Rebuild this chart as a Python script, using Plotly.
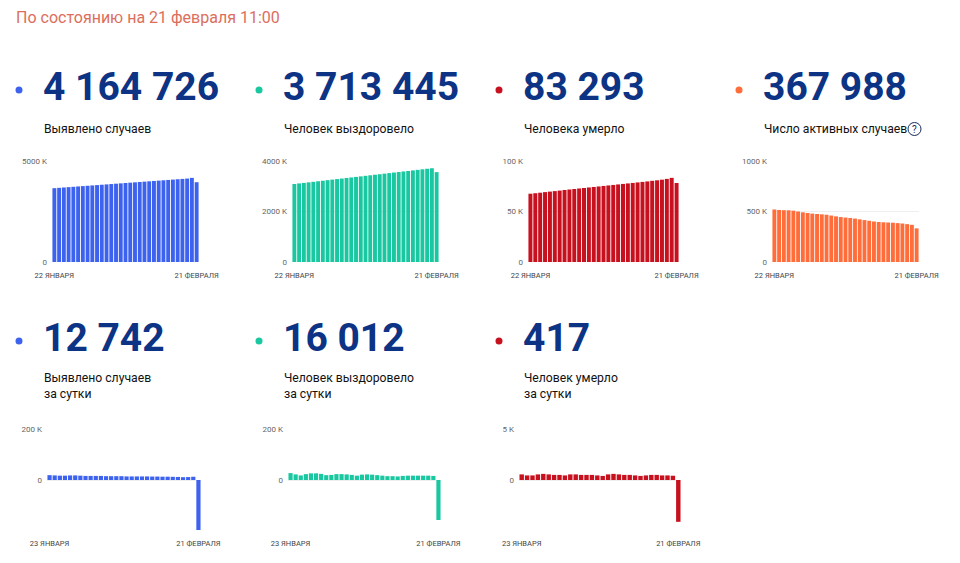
import plotly.graph_objects as go

# Colours
blue = '#3d63ee'    # confirmed
teal = '#19c7a0'    # recovered
red = '#c8111f'     # deaths
orange = '#ff6d3b'  # active
navy = '#0d3385'
salmon = '#dc6e5c'

W, H = 960, 563
PAGE_MARGIN = 8  # the html body margin shifts the figure

# Cumulative series, thousands, 22 Jan .. 21 Feb (31 days)
confirmed = [3655, 3672, 3689, 3706, 3723, 3740, 3757, 3774, 3791, 3808,
             3825, 3842, 3859, 3876, 3893, 3910, 3927, 3944, 3961, 3978,
             3995, 4012, 4029, 4046, 4063, 4080, 4097, 4114, 4131, 4165, 3950]
recovered = [3090, 3112, 3133, 3155, 3176, 3198, 3219, 3241, 3262, 3284,
             3305, 3327, 3348, 3370, 3391, 3413, 3434, 3456, 3477, 3499,
             3520, 3542, 3563, 3585, 3606, 3628, 3649, 3671, 3692, 3713, 3560]
deaths = [67.6, 68.1, 68.6, 69.2, 69.7, 70.2, 70.7, 71.3, 71.8, 72.3,
          72.8, 73.3, 73.8, 74.3, 74.8, 75.3, 75.8, 76.3, 76.8, 77.3,
          77.8, 78.3, 78.8, 79.3, 79.8, 80.4, 80.9, 81.5, 82.3, 83.3, 78.2]
active = [520, 515, 513, 512, 508, 500, 492, 485, 479, 475,
          472, 468, 460, 452, 445, 440, 436, 430, 422, 415,
          408, 401, 396, 393, 391, 389, 385, 381, 375, 368, 333]

# Daily series, 23 Jan .. 21 Feb (30 days)
daily_confirmed = [19, 18, 17, 17, 18, 18, 17, 16, 16, 16,
                   16, 15, 15, 15, 15, 14, 14, 14, 14, 14,
                   13.5, 13.5, 13, 13, 12.5, 12, 11, 11.5, 12.7, -196]
daily_recovered = [27, 22, 18, 23, 26, 26, 24, 19, 20, 23,
                   23, 22, 20, 17, 21, 22, 21, 19, 17, 15,
                   15, 14, 16, 17, 17, 17, 17, 17, 16, -157]
daily_deaths = [0.55, 0.45, 0.45, 0.55, 0.6, 0.55, 0.5, 0.5, 0.45, 0.55,
                0.55, 0.5, 0.5, 0.5, 0.45, 0.4, 0.55, 0.6, 0.55, 0.5,
                0.5, 0.45, 0.4, 0.45, 0.5, 0.5, 0.45, 0.45, 0.42, -4.1]

totals = ['4 164 726', '3 713 445', '83 293', '367 988']
totals_daily = ['12 742', '16 012', '417']
labels = ['Выявлено случаев', 'Человек выздоровело', 'Человека умерло',
          'Число активных случаев']
labels_daily = ['Выявлено случаев<br>за сутки', 'Человек выздоровело<br>за сутки',
                'Человек умерло<br>за сутки']

cum_ticks = [[0, 5000], [0, 2000, 4000], [0, 50, 100], [0, 500, 1000]]
cum_ticktext = [['0', '5000 K'], ['0', '2000 K', '4000 K'],
                ['0', '50 K', '100 K'], ['0', '500 K', '1000 K']]
daily_ticks = [[-200, 0, 200], [-200, 0, 200], [-5, 0, 5]]
daily_ticktext = [['', '0', '200 K'], ['', '0', '200 K'], ['', '0', '5 K']]
start_label, end_label = '22 ЯНВАРЯ', '21 ФЕВРАЛЯ'
start_label_daily = '23 ЯНВАРЯ'


def px_x(x):
    return (x - PAGE_MARGIN) / W


def px_y(y):
    return 1 - (y - PAGE_MARGIN) / H


fig = go.Figure()
layout = {}
annotations = []
shapes = []


def add_panel(n, values, color, x0, x1, y_top, y_bottom,
              yrange, ticks, ticktext, first_label, standoff):
    """One small bar chart on its own pair of axes."""
    xs = list(range(len(values)))
    fig.add_trace(go.Bar(x=xs, y=values, marker_color=color,
                         marker_line_width=0, xaxis='x%d' % n, yaxis='y%d' % n,
                         hoverinfo='skip'))
    layout['xaxis%d' % n] = dict(
        domain=[px_x(x0), px_x(x1)], range=[-0.5, len(values) - 0.5],
        anchor='y%d' % n, showgrid=False, zeroline=False, showline=False,
        tickvals=[0, len(values) - 1], ticktext=[first_label, end_label],
        tickfont=dict(size=7.5, color='#444', family='Roboto'), ticks='',
        ticklabelstandoff=standoff, automargin=False, fixedrange=True)
    layout['yaxis%d' % n] = dict(
        domain=[px_y(y_bottom), px_y(y_top)], range=yrange,
        anchor='x%d' % n, showgrid=True, gridcolor='#eeeeee', gridwidth=1,
        zeroline=False, showline=False, tickvals=ticks, ticktext=ticktext,
        tickfont=dict(size=8, color='#666', family='Roboto'), ticks='',
        ticklabelstandoff=4, automargin=False, fixedrange=True)


def add_header(x, y_num, y_label, number, label, color):
    shapes.append(dict(type='circle', xref='paper', yref='paper',
                       x0=px_x(x - 27.5), x1=px_x(x - 20.5),
                       y0=px_y(y_num + 6.5), y1=px_y(y_num - 0.5),
                       fillcolor=color, line_width=0))
    annotations.append(dict(x=px_x(x - 2), y=px_y(y_num), xref='paper', yref='paper',
                            text='<b>%s</b>' % number, showarrow=False,
                            xanchor='left', yanchor='middle',
                            font=dict(size=39, color=navy, family='Roboto')))
    annotations.append(dict(x=px_x(x - 1), y=px_y(y_label), xref='paper', yref='paper',
                            text=label, showarrow=False, xanchor='left',
                            yanchor='top', align='left',
                            font=dict(size=12.2, color='#111', family='Roboto')))


cum = [confirmed, recovered, deaths, active]
cum_colors = [blue, teal, red, orange]
cum_x = [(52, 199), (292, 439), (528, 679), (772, 919)]
cum_max = [5000, 4000, 100, 1000]
for i in range(4):
    add_panel(i + 1, cum[i], cum_colors[i], cum_x[i][0], cum_x[i][1],
              161, 262, [0, cum_max[i]], cum_ticks[i], cum_ticktext[i],
              start_label, 7)
    add_header(43 + 240 * i, 87, 120, totals[i], labels[i], cum_colors[i])

daily = [daily_confirmed, daily_recovered, daily_deaths]
daily_x = [(47, 201), (288, 441), (519, 681)]
daily_max = [200, 200, 5]
for i in range(3):
    add_panel(i + 5, daily[i], cum_colors[i], daily_x[i][0], daily_x[i][1],
              429, 531, [-daily_max[i], daily_max[i]], daily_ticks[i],
              daily_ticktext[i], start_label_daily, 6)
    add_header(43 + 240 * i, 338, 369, totals_daily[i], labels_daily[i],
               cum_colors[i])

# question mark next to "Число активных случаев"
shapes.append(dict(type='circle', xref='paper', yref='paper',
                   x0=px_x(908), x1=px_x(921), y0=px_y(135.5), y1=px_y(122.5),
                   line=dict(color='#1a2a5a', width=1)))
annotations.append(dict(x=px_x(914.5), y=px_y(129), xref='paper', yref='paper',
                        text='?', showarrow=False, xanchor='center', yanchor='middle',
                        font=dict(size=10, color='#1a2a5a', family='Roboto')))

annotations.append(dict(x=px_x(14), y=px_y(17), xref='paper', yref='paper',
                        text='По состоянию на 21 февраля 11:00', showarrow=False,
                        xanchor='left', yanchor='middle',
                        font=dict(size=16, color=salmon, family='Roboto')))

fig.update_layout(**layout)
fig.update_layout(width=W, height=H, margin=dict(l=0, r=0, t=0, b=0),
                  paper_bgcolor='white', plot_bgcolor='white',
                  showlegend=False, bargap=0.18,
                  annotations=annotations, shapes=shapes)

fig.write_html('out.html', config={'displayModeBar': False})
